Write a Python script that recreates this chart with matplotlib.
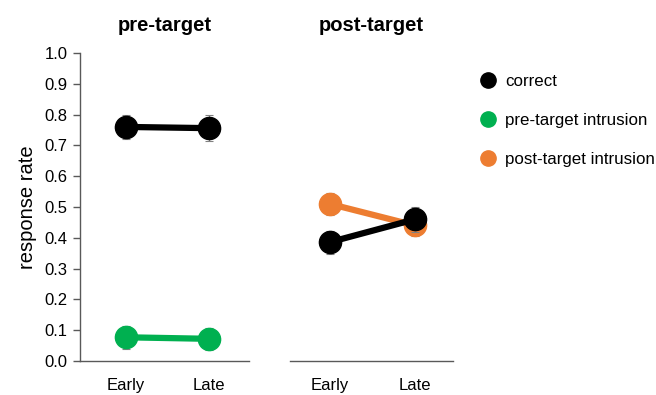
import matplotlib.pyplot as plt
from matplotlib.lines import Line2D

plt.rcParams['font.family'] = ['Liberation Sans', 'DejaVu Sans']

phases = ["Early", "Late"]

# pre-target panel
pre_correct = [0.760, 0.756]
pre_correct_err = [0.040, 0.043]
pre_intrusion = [0.077, 0.072]
pre_intrusion_err = [0.037, 0.035]

# post-target panel
post_correct = [0.386, 0.460]
post_correct_err = [0.037, 0.040]
post_intrusion = [0.510, 0.440]
post_intrusion_err = [0.035, 0.035]

BLACK = "#000000"
GREEN = "#00B050"
ORANGE = "#ED7D31"
AXIS = "#595959"

fig = plt.figure(figsize=(6.56, 3.95), dpi=100, facecolor="white")
ax1 = fig.add_axes([80/656, 1-361/395, 169/656, 308/395])
ax2 = fig.add_axes([290/656, 1-361/395, 163/656, 308/395])


def series(ax, vals, errs, color, z):
    x = range(len(vals))
    ax.errorbar(x, vals, yerr=errs, fmt="none", ecolor="#808080",
                elinewidth=0.8, capsize=3, capthick=0.8, zorder=z)
    ax.plot(x, vals, color=color, lw=4.5, marker="o", ms=16,
            solid_capstyle="butt", zorder=z + 1)


series(ax1, pre_intrusion, pre_intrusion_err, GREEN, 2)
series(ax1, pre_correct, pre_correct_err, BLACK, 4)
series(ax2, post_intrusion, post_intrusion_err, ORANGE, 2)
series(ax2, post_correct, post_correct_err, BLACK, 4)

for ax, title, xlim in [(ax1, "pre-target", (-0.554, 1.482)),
                        (ax2, "post-target", (-0.47, 1.447))]:
    ax.set_xlim(*xlim)
    ax.set_ylim(0, 1.0)
    ax.set_xticks(range(len(phases)))
    ax.set_xticklabels(phases, fontsize=12)
    ax.tick_params(axis="x", length=0, pad=12)
    ax.set_title(title, fontsize=14.5, fontweight="bold", pad=16)
    for s in ["top", "right"]:
        ax.spines[s].set_visible(False)
    ax.spines["bottom"].set_color(AXIS)
    ax.spines["bottom"].set_linewidth(1.0)

ax1.set_yticks([i / 10 for i in range(11)])
ax1.set_yticklabels([f"{i / 10:.1f}" for i in range(11)], fontsize=12)
ax1.tick_params(axis="y", length=5, width=1.0, color=AXIS, pad=4)
ax1.spines["left"].set_color(AXIS)
ax1.spines["left"].set_linewidth(1.0)
ax1.set_ylabel("response rate", fontsize=14.5, labelpad=5)

ax2.spines["left"].set_visible(False)
ax2.set_yticks([])

handles = [Line2D([], [], ls="none", marker="o", ms=11, color=c, label=l)
           for c, l in [(BLACK, "correct"), (GREEN, "pre-target intrusion"),
                        (ORANGE, "post-target intrusion")]]
fig.legend(handles=handles, loc="upper left", bbox_to_anchor=(473/656, 1-67/395),
           frameon=False, fontsize=12.2, labelspacing=1.42, handletextpad=0.5,
           handlelength=1.0, borderaxespad=0)

fig.savefig("out.png", dpi=100)
